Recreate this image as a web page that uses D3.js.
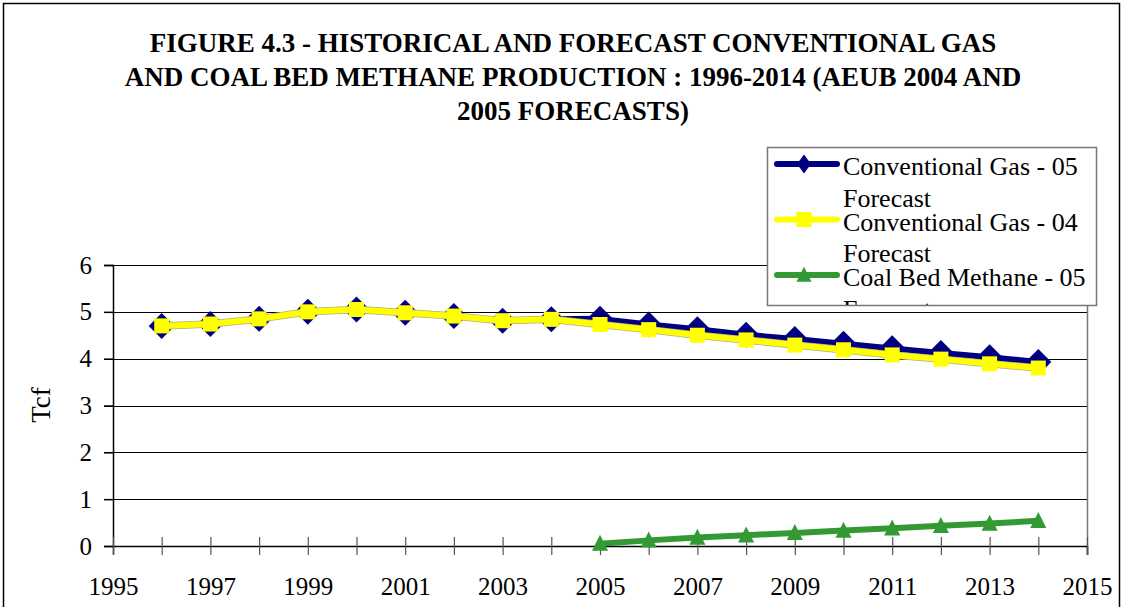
<!DOCTYPE html>
<html><head><meta charset="utf-8">
<script src="https://cdn.jsdelivr.net/npm/d3@7"></script>
<style>body{margin:0;background:#fff}svg{display:block}text{font-family:"Liberation Serif","Times New Roman",serif;fill:#000}</style>
</head><body><svg id="c" width="1127" height="607"></svg>
<script>
const titleLines = ["FIGURE 4.3 - HISTORICAL AND FORECAST CONVENTIONAL GAS",
  "AND COAL BED METHANE PRODUCTION : 1996-2014 (AEUB 2004 AND",
  "2005 FORECASTS)"];
const yAxisTitle = "Tcf";
const xTicks = [1995,1997,1999,2001,2003,2005,2007,2009,2011,2013,2015];
const yTicks = [0,1,2,3,4,5,6];
const years05 = [1996,1997,1998,1999,2000,2001,2002,2003,2004,2005,2006,2007,2008,2009,2010,2011,2012,2013,2014];
const conv05 = [4.70,4.74,4.85,5.00,5.05,4.98,4.91,4.81,4.84,4.85,4.73,4.63,4.51,4.42,4.32,4.22,4.12,4.03,3.93];
const conv04 = [4.70,4.74,4.85,5.00,5.05,4.98,4.91,4.81,4.84,4.73,4.62,4.50,4.40,4.29,4.19,4.08,3.99,3.89,3.80];
const cbmYears = [2005,2006,2007,2008,2009,2010,2011,2012,2013,2014];
const cbm05 = [0.05,0.12,0.18,0.23,0.28,0.33,0.38,0.43,0.48,0.54];
const seriesNames = ["Conventional Gas - 05 Forecast","Conventional Gas - 04 Forecast","Coal Bed Methane - 05 Forecast"];

const svg = d3.select("#c");
const L = 113, R = 1087, T = 265, B = 546;
const x = d3.scaleLinear().domain([1995,2015]).range([L,R]);
const y = d3.scaleLinear().domain([0,6]).range([B,T]);

// outer frame
svg.append("rect").attr("x",3.5).attr("y",3.5).attr("width",1116).attr("height",620)
  .attr("fill","none").attr("stroke","#000").attr("stroke-width",1.5);

// title
svg.append("g").selectAll("text").data(titleLines).join("text")
  .attr("x",573).attr("y",(d,i)=>52+i*34).attr("text-anchor","middle")
  .attr("font-size",27).attr("font-weight","bold").text(d=>d);

// gridlines
svg.append("g").selectAll("line").data(yTicks).join("line")
  .attr("x1",L-9).attr("x2",R).attr("y1",d=>Math.round(y(d))+0.5).attr("y2",d=>Math.round(y(d))+0.5)
  .attr("stroke","#000").attr("stroke-width",1);
// right border
svg.append("line").attr("x1",R+0.5).attr("x2",R+0.5).attr("y1",T).attr("y2",B+9)
  .attr("stroke","#777").attr("stroke-width",1.5);

// y axis
const yAx = svg.append("g").attr("transform",`translate(${L},0)`)
  .call(d3.axisLeft(y).tickValues(yTicks).tickSize(9).tickPadding(12).tickFormat(d3.format("d")));
yAx.select(".domain").attr("stroke","#000").attr("stroke-width",1.5);
yAx.selectAll(".tick line").attr("stroke","#000").attr("stroke-width",1.5);
yAx.selectAll("text").attr("font-size",25);

// x axis
const xAx = svg.append("g").attr("transform",`translate(0,${B})`)
  .call(d3.axisBottom(x).tickValues(d3.range(1995,2016)).tickSize(9).tickPadding(22)
    .tickFormat(d=> xTicks.includes(d) ? String(d) : ""));
xAx.select(".domain").attr("stroke","#000").attr("stroke-width",1.5);
xAx.selectAll(".tick line").attr("stroke","#555").attr("stroke-width",1.2).attr("y1",-9);
xAx.selectAll("text").attr("font-size",25);

// y title
svg.append("text").attr("transform","translate(50,405) rotate(-90)").attr("text-anchor","middle")
  .attr("font-size",27).text(yAxisTitle);

const line = d3.line().x(d=>x(d[0])).y(d=>y(d[1]));
const navy = "#000080", yellow = "#ffff00", green = "#339933";
const diamond = (w,h)=>`M0,${-h}L${w},0L0,${h}L${-w},0Z`;
const square = (s)=>`M${-s},${-s}H${s}V${s}H${-s}Z`;
const tri = (w,h)=>`M0,${-h*0.55}L${w},${h*0.45}H${-w}Z`;

function drawSeries(xs, vs, color, shape, outline) {
  const pts = xs.map((d,i)=>[d,vs[i]]);
  const g = svg.append("g");
  if (outline) g.append("path").attr("d",line(pts)).attr("fill","none").attr("stroke",outline).attr("stroke-width",7.5).attr("stroke-linejoin","round");
  g.append("path").attr("d",line(pts)).attr("fill","none").attr("stroke",color).attr("stroke-width",6).attr("stroke-linejoin","round");
  g.selectAll(".m").data(pts).join("path").attr("class","m")
    .attr("transform",d=>`translate(${x(d[0])},${y(d[1])})`).attr("d",shape).attr("fill",color);
}
drawSeries(years05, conv05, navy, diamond(13,13), null);
drawSeries(years05, conv04, yellow, square(7.5), "#b0b080");
drawSeries(cbmYears, cbm05, green, tri(8,16), null);

// legend
const lg = svg.append("g");
lg.append("clipPath").attr("id","lc").append("rect").attr("x",767).attr("y",147).attr("width",329).attr("height",158);
lg.append("rect").attr("x",767.5).attr("y",147.5).attr("width",329).attr("height",158)
  .attr("fill","#fff").attr("stroke","#777").attr("stroke-width",1.5);
const items = [[navy,diamond(7,9.5)],[yellow,square(7.5)],[green,tri(7.5,15)]];
const ent = lg.append("g").attr("clip-path","url(#lc)").selectAll("g").data(seriesNames).join("g")
  .attr("transform",(d,i)=>`translate(0,${164+i*55.5})`);
ent.append("line").attr("x1",777).attr("x2",837).attr("stroke",(d,i)=>items[i][0]).attr("stroke-width",6).attr("stroke-linecap","round");
ent.append("path").attr("transform","translate(804,0)").attr("d",(d,i)=>items[i][1]).attr("fill",(d,i)=>items[i][0]);
ent.each(function(d){
  const parts = [d.replace(/ Forecast$/,""),"Forecast"];
  d3.select(this).selectAll("text").data(parts).join("text")
    .attr("x",843).attr("y",(p,j)=>11+j*31.5).attr("font-size",26).text(p=>p);
});
</script></body></html>
